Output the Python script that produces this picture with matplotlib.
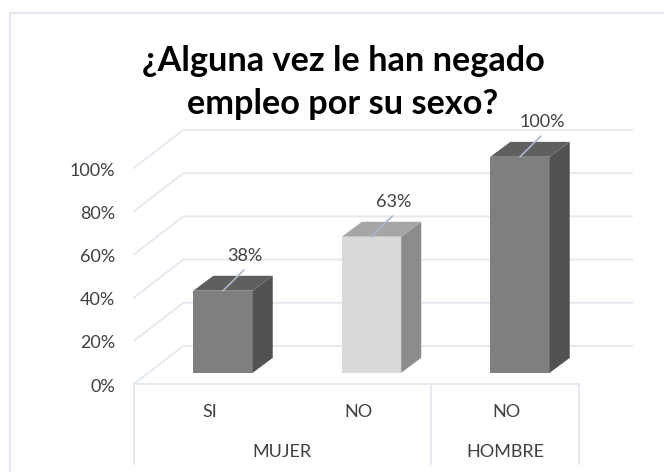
"""
Bar chart with a fake 3D look: empleo negado por sexo.
"""
import matplotlib
matplotlib.use("Agg")
import matplotlib.pyplot as plt
from matplotlib.patches import Polygon

plt.rcParams["font.family"] = ["Lato", "DejaVu Sans"]

values = [38, 63, 100]
labels = ["38%", "63%", "100%"]
sub_labels = ["SI", "NO", "NO"]
group_labels = ["MUJER", "HOMBRE"]
group_centers = [0.4, 1.9]
group_edges = [-0.6, 1.4, 2.4]
yticks = [0, 20, 40, 60, 80, 100]
front_colors = ["#7f7f7f", "#d9d9d9", "#7f7f7f"]
side_colors = ["#525252", "#8c8c8c", "#525252"]
top_colors = ["#5f5f5f", "#a6a6a6", "#5f5f5f"]

grid_c = "#e3e8ef"
text_c = "#404040"
bar_w = 0.4
lift = 5.2        # bar base above the floor's front edge
bar_dx, bar_dy = 0.135, 6.9
wall_dx, wall_dy = 0.333, 17.6

fig = plt.figure(figsize=(6.64, 4.72), dpi=100)
ax = fig.add_axes([0, 0, 1, 1])
ax.set_xlim(-223 / 148.5, 441 / 148.5)
ax.set_ylim(-88 / 2.16, 384 / 2.16)
ax.axis("off")

# outer frame
ax.plot([-1.435, -1.435, 3.0], [-41, 171.8, 171.8], color=grid_c, lw=1.6)

# gridlines: diagonal on the left, then along the back wall
for v in yticks:
    ax.plot([-0.6, -0.6 + wall_dx, 2.755], [v, v + wall_dy, v + wall_dy], color=grid_c, lw=1.3)
    ax.text(-0.727, v - 1.2, f"{v}%", ha="right", va="center", fontsize=13, color=text_c)

# floor front edge and category dividers
ax.plot([-0.6, 2.4], [0, 0], color=grid_c, lw=1.3)
for x in group_edges:
    ax.plot([x, x], [0, -37], color=grid_c, lw=1.3)

for i, v in enumerate(values):
    x0, x1 = i - bar_w / 2, i + bar_w / 2
    y0, y1 = lift, lift + v
    ax.add_patch(Polygon([(x0, y0), (x1, y0), (x1, y1), (x0, y1)], fc=front_colors[i], ec="none", zorder=3))
    ax.add_patch(Polygon([(x1, y0), (x1 + bar_dx, y0 + bar_dy), (x1 + bar_dx, y1 + bar_dy), (x1, y1)],
                         fc=side_colors[i], ec="none", zorder=3))
    ax.add_patch(Polygon([(x0, y1), (x1, y1), (x1 + bar_dx, y1 + bar_dy), (x0 + bar_dx, y1 + bar_dy)],
                         fc=top_colors[i], ec="none", zorder=3))
    # leader line and value label
    ax.plot([i, i + 0.14], [y1, y1 + 9.5], color="#a9b8cc", lw=1.2, zorder=4)
    ax.text(i + 0.15, y1 + 16, labels[i], ha="center", va="center", fontsize=13, color=text_c, zorder=5)

for i, s in enumerate(sub_labels):
    ax.text(i - 0.09, -13, s, ha="center", va="center", fontsize=13, color=text_c)
for x, s in zip(group_centers, group_labels):
    ax.text(x, -31.5, s, ha="center", va="center", fontsize=13, color=text_c)

fig.text(343 / 664, 1 - 61 / 472, "¿Alguna vez le han negado", ha="center", va="center",
         fontsize=24.7, fontweight="bold", color="black")
fig.text(343 / 664, 1 - 104 / 472, "empleo por su sexo?", ha="center", va="center",
         fontsize=24.7, fontweight="bold", color="black")

fig.savefig("out.png", dpi=100)
